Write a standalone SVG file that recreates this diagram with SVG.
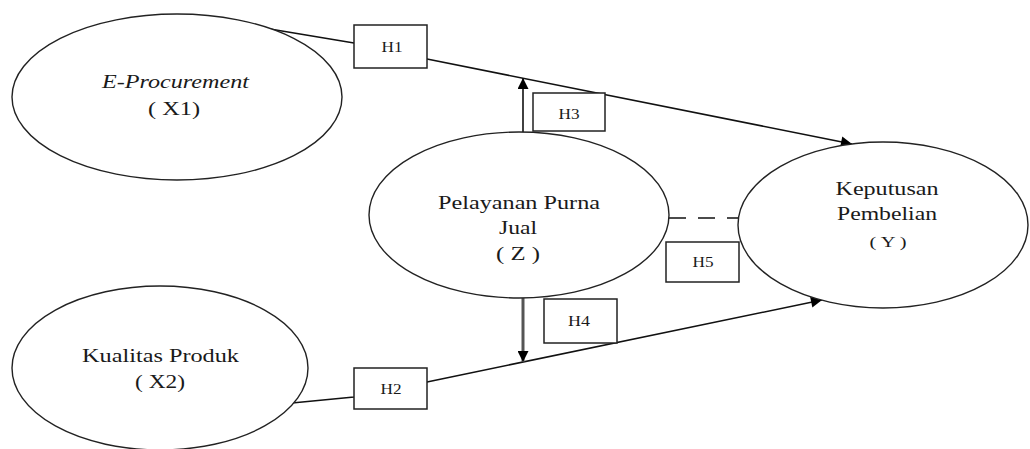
<svg xmlns="http://www.w3.org/2000/svg" width="1030" height="449" viewBox="0 0 1030 449">
<style>
.node{fill:#fff;stroke:#222;stroke-width:1.4}
.t{font-family:"Liberation Serif","Times New Roman",serif;font-size:19px;fill:#1a1a1a;text-anchor:middle}
.h{font-family:"Liberation Serif","Times New Roman",serif;font-size:15px;fill:#1a1a1a;text-anchor:middle}
.box{fill:#fff;stroke:#222;stroke-width:1.5}
.edge{fill:none;stroke:#111;stroke-width:1.6}
</style>
<defs>
<marker id="arr" viewBox="0 0 10 10" refX="10" refY="5" markerWidth="15" markerHeight="11" markerUnits="userSpaceOnUse" orient="auto">
<path d="M0,0 L10,5 L0,10 z" fill="#000"/>
</marker>
</defs>
<rect width="1030" height="449" fill="#fff"/>
<g id="connectors">
<path class="edge" d="M270,29 L354,43 L427,59 L852,144" marker-end="url(#arr)"/>
<path class="edge" d="M292,403 L354,397 L427,382 L822,300" marker-end="url(#arr)"/>
<path class="edge" d="M523,133 L523,78" marker-end="url(#arr)"/>
<path class="edge" d="M523,298 L523,362" style="stroke:#555;stroke-width:3" marker-end="url(#arr)"/>
<path class="edge" d="M669,218 L738,218" stroke-dasharray="17,12"/>
</g>
<g id="node-x1">
<ellipse class="node" cx="177" cy="97" rx="165" ry="83"/>
<text class="t" x="175.5" y="88" font-style="italic" textLength="147" lengthAdjust="spacingAndGlyphs">E-Procurement</text>
<text class="t" x="174" y="115" textLength="52" lengthAdjust="spacingAndGlyphs">( X1)</text>
</g>
<g id="node-x2">
<ellipse class="node" cx="160" cy="368" rx="148" ry="82"/>
<text class="t" x="160.5" y="362" textLength="157" lengthAdjust="spacingAndGlyphs">Kualitas Produk</text>
<text class="t" x="160" y="388" textLength="50" lengthAdjust="spacingAndGlyphs">( X2)</text>
</g>
<g id="node-z">
<ellipse class="node" cx="519" cy="215" rx="150" ry="83"/>
<text class="t" x="519" y="209" textLength="162" lengthAdjust="spacingAndGlyphs">Pelayanan Purna</text>
<text class="t" x="518" y="234" textLength="38" lengthAdjust="spacingAndGlyphs">Jual</text>
<text class="t" x="518" y="260" textLength="44" lengthAdjust="spacingAndGlyphs">( Z )</text>
</g>
<g id="node-y">
<ellipse class="node" cx="883" cy="225" rx="145" ry="83"/>
<text class="t" x="887" y="195" textLength="103" lengthAdjust="spacingAndGlyphs">Keputusan</text>
<text class="t" x="887" y="220" textLength="100" lengthAdjust="spacingAndGlyphs">Pembelian</text>
<text class="t" x="888" y="247" style="font-size:15px" textLength="37" lengthAdjust="spacingAndGlyphs">( Y )</text>
</g>
<g id="label-h1">
<rect class="box" x="354" y="25" width="73" height="43"/>
<text class="h" x="392" y="52" textLength="21" lengthAdjust="spacingAndGlyphs">H1</text>
</g>
<g id="label-h2">
<rect class="box" x="354" y="368" width="73" height="41"/>
<text class="h" x="391" y="394" textLength="21" lengthAdjust="spacingAndGlyphs">H2</text>
</g>
<g id="label-h3">
<rect class="box" x="533" y="93" width="72" height="38"/>
<text class="h" x="569" y="119" textLength="21" lengthAdjust="spacingAndGlyphs">H3</text>
</g>
<g id="label-h4">
<rect class="box" x="544" y="299" width="73" height="44"/>
<text class="h" x="579" y="326" textLength="22" lengthAdjust="spacingAndGlyphs">H4</text>
</g>
<g id="label-h5">
<rect class="box" x="666" y="242" width="73" height="40"/>
<text class="h" x="703" y="267" textLength="21" lengthAdjust="spacingAndGlyphs">H5</text>
</g>
</svg>
